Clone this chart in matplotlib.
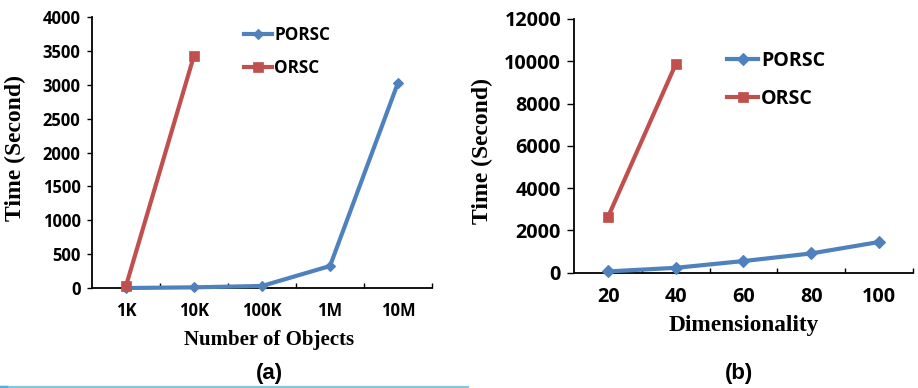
import matplotlib
matplotlib.use("Agg")
import matplotlib.pyplot as plt
from matplotlib.lines import Line2D
import numpy as np

# Panel (a): running time vs. number of objects
objects_labels = ["1K", "10K", "100K", "1M", "10M"]
porsc_objects = [0, 10, 30, 325, 3030]
orsc_objects = [30, 3430]

# Panel (b): running time vs. dimensionality
dims_labels = ["20", "40", "60", "80", "100"]
porsc_dims = [60, 230, 550, 910, 1450]
orsc_dims = [2650, 9870]

BLUE = "#4F81BD"
RED = "#C0504D"
TICK_FONT = "Open Sans"
LABEL_FONT = "Liberation Serif"

plt.rcParams["font.family"] = [TICK_FONT, "DejaVu Sans"]
plt.rcParams["font.weight"] = "bold"

fig = plt.figure(figsize=(9.18, 3.88), dpi=100)
ax_a = fig.add_axes([0.1002, 0.2577, 0.3704, 0.6985])
ax_b = fig.add_axes([0.6256, 0.2972, 0.3686, 0.6539])


def style_axes(ax, labels, ymax, ystep, tick_fs, tick_len):
    n = len(labels)
    ax.set_xlim(-0.5, n - 0.5)
    ax.set_ylim(0, ymax)
    ax.set_xticks(np.arange(n), labels, fontsize=tick_fs, fontweight="bold")
    ax.set_xticks(np.arange(n) + 0.5, minor=True)
    yt = np.arange(0, ymax + 1, ystep)
    ax.set_yticks(yt, [str(v) for v in yt], fontsize=tick_fs, fontweight="bold")
    for side in ("top", "right"):
        ax.spines[side].set_visible(False)
    for side in ("left", "bottom"):
        ax.spines[side].set_linewidth(1.3)
    ax.tick_params(axis="x", which="major", length=0, pad=10)
    ax.tick_params(axis="x", which="minor", direction="in", length=3.5, width=1.0)
    ax.tick_params(axis="y", direction="out", length=tick_len, width=1.0, pad=4.5)


def draw_series(ax, porsc, orsc, dsize):
    x1 = np.arange(len(porsc))
    x2 = np.arange(len(orsc))
    ax.plot(x1, porsc, color=BLUE, lw=3, marker="D", ms=dsize,
            mfc=BLUE, mec=BLUE, mew=0.8, label="PORSC", clip_on=False, zorder=3)
    ax.plot(x2, orsc, color=RED, lw=3, marker="s", ms=7.5,
            mfc=RED, mec=RED, mew=0.5, label="ORSC", clip_on=False, zorder=4)


# ---- (a)
draw_series(ax_a, porsc_objects, orsc_objects, 5.5)
style_axes(ax_a, objects_labels, 4000, 500, 12, 3.7)
ax_a.set_xlabel("Number of Objects", fontfamily=LABEL_FONT, fontweight="bold",
                fontsize=15)
ax_a.xaxis.set_label_coords(0.52, -0.210)
ax_a.xaxis.label.set_verticalalignment("baseline")
ax_a.set_ylabel("Time (Second)", fontfamily=LABEL_FONT, fontweight="bold",
                fontsize=17)
ax_a.yaxis.set_label_coords(-0.2265, 0.518)
ax_a.yaxis.label.set_verticalalignment("center")
leg_a = ax_a.legend(loc="upper left", bbox_to_anchor=(0.447, 0.967),
                    frameon=False, borderpad=0, borderaxespad=0,
                    handlelength=1.62, handletextpad=0.15, labelspacing=0.87,
                    prop={"family": TICK_FONT, "weight": "bold", "size": 12.3})

# ---- (b)
draw_series(ax_b, porsc_dims, orsc_dims, 6.2)
style_axes(ax_b, dims_labels, 12000, 2000, 14.2, 5.0)
ax_b.set_xlabel("Dimensionality", fontfamily=LABEL_FONT, fontweight="bold",
                fontsize=16.8)
ax_b.xaxis.set_label_coords(0.501, -0.230)
ax_b.xaxis.label.set_verticalalignment("baseline")
ax_b.set_ylabel("Time (Second)", fontfamily=LABEL_FONT, fontweight="bold",
                fontsize=17)
ax_b.yaxis.set_label_coords(-0.270, 0.478)
ax_b.yaxis.label.set_verticalalignment("center")
leg_b = ax_b.legend(loc="upper left", bbox_to_anchor=(0.451, 0.874),
                    frameon=False, borderpad=0, borderaxespad=0,
                    handlelength=1.6, handletextpad=0.15, labelspacing=0.9,
                    prop={"family": TICK_FONT, "weight": "bold", "size": 14.1})

# Sub-figure captions
fig.text(269 / 918, 1 - 374 / 388, "(a)", ha="center", va="center",
         fontfamily="Liberation Sans", fontweight="bold", fontsize=16)
fig.text(739 / 918, 1 - 374 / 388, "(b)", ha="center", va="center",
         fontfamily="Liberation Sans", fontweight="bold", fontsize=16)

# Thin rule along the bottom-left edge
fig.add_artist(Line2D([0, 468 / 918], [1 - 386.8 / 388] * 2,
                      transform=fig.transFigure, color="#86C5E0", lw=1.6))
fig.add_artist(Line2D([0, 6 / 918], [1 - 386.5 / 388] * 2,
                      transform=fig.transFigure, color="#5AAEDC", lw=2.5))

fig.savefig("out.png", dpi=100)
